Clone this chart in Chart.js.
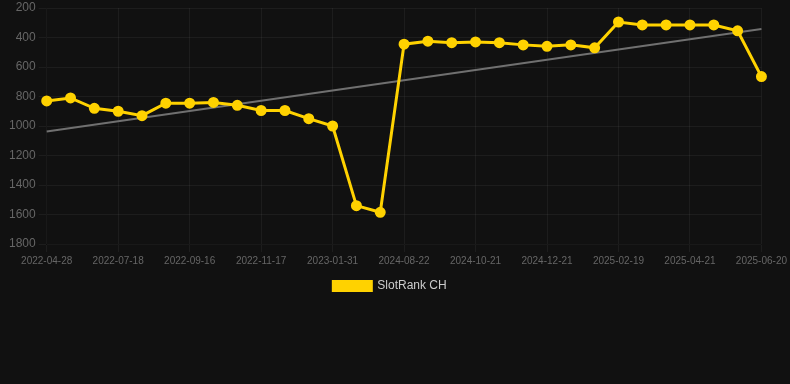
<!DOCTYPE html>
<html>
<head>
<meta charset="utf-8">
<script src="https://cdn.jsdelivr.net/npm/chart.js@4"></script>
<style>
  html, body { margin: 0; padding: 0; background: #111111; }
  #wrap { width: 790px; height: 302px; position: relative; }
</style>
</head>
<body>
<div id="wrap"><canvas id="grafico"></canvas></div>
<script>
const labels = [
  '2022-04-28', '2022-05-25', '2022-06-21', '2022-07-18', '2022-08-07', '2022-08-27',
  '2022-09-16', '2022-10-06', '2022-10-27', '2022-11-17', '2022-12-12', '2023-01-06',
  '2023-01-31', '2024-06-23', '2024-07-23', '2024-08-22', '2024-09-11', '2024-10-01',
  '2024-10-21', '2024-11-10', '2024-12-01', '2024-12-21', '2025-01-10', '2025-01-30',
  '2025-02-19', '2025-03-11', '2025-04-01', '2025-04-21', '2025-05-11', '2025-05-31',
  '2025-06-20'
];
const rankValues = [
  830, 810, 880, 900, 930, 845, 845, 840, 860, 895, 895, 950,
  1000, 1540, 1585, 445, 425, 435, 430, 435, 450, 460, 450, 470,
  295, 315, 315, 315, 315, 355, 665
];
// trend line: only the two ends
const trendValues = [1037].concat(new Array(29).fill(null), [342]);

const Grafico = document.getElementById('grafico');
const myChart = new Chart(Grafico, {
  type: 'line',
  data: {
    labels: labels,
    datasets: [
      {
        label: 'SlotRank CH',
        data: rankValues,
        borderColor: '#ffd200',
        backgroundColor: '#ffd200',
        borderWidth: 3,
        pointRadius: 4,
        pointHoverRadius: 5,
        tension: 0
      },
      {
        label: 'trend',
        data: trendValues,
        borderColor: '#707070',
        borderWidth: 2,
        pointRadius: 0,
        spanGaps: true,
        fill: false
      }
    ]
  },
  options: {
    responsive: true,
    maintainAspectRatio: false,
    animation: false,
    layout: { padding: { left: 6, right: 16 } },
    plugins: {
      legend: {
        position: 'bottom',
        labels: {
          color: '#cccccc',
          boxWidth: 38,
          boxHeight: 9,
          font: { size: 12, family: 'Arial, Liberation Sans, sans-serif' },
          filter: (item) => item.text !== 'trend'
        }
      },
      tooltip: { enabled: false }
    },
    scales: {
      x: {
        ticks: {
          color: '#666666',
          font: { size: 10, family: 'Arial, Liberation Sans, sans-serif' },
          maxRotation: 0,
          autoSkip: true,
          maxTicksLimit: 11
        },
        grid: { color: 'rgba(255,255,255,0.05)' }
      },
      y: {
        reverse: true,
        min: 200,
        max: 1800,
        ticks: {
          color: '#666666',
          stepSize: 200,
          callback: (v) => String(v),
          font: { size: 12, lineHeight: 0.6, family: 'Arial, Liberation Sans, sans-serif' }
        },
        grid: { color: 'rgba(255,255,255,0.05)' }
      }
    }
  }
});
</script>
</body>
</html>
